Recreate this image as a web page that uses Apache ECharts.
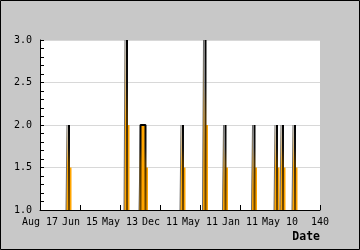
<!DOCTYPE html>
<html><head><meta charset="utf-8">
<script src="https://cdn.jsdelivr.net/npm/echarts@6/dist/echarts.min.js"></script>
<style>html,body{margin:0;padding:0;background:#c8c8c8}#c{width:360px;height:250px}</style>
</head><body><div id="c"></div>
<script>
// x positions (axis units 0..140) and visit counts
const dayIndex = [0, 13, 13.5, 14.5, 14.5, 42, 42.5, 43.5, 43.5, 49.5, 50.25, 52.75, 52.75, 70, 70.5, 71.5, 71.5, 81.25, 81.75, 82.75, 82.75, 91.25, 91.75, 92.75, 92.75, 105.75, 106.25, 107.25, 107.25, 117, 117.5, 118.5, 118.5, 120, 120.5, 121.5, 121.5, 126, 126.5, 127.5, 127.5, 140];
const visits   = [1, 1, 2, 2, 1, 1, 3, 3, 1, 1, 2, 2, 1, 1, 2, 2, 1, 1, 3, 3, 1, 1, 2, 2, 1, 1, 2, 2, 1, 1, 2, 2, 1, 1, 2, 2, 1, 1, 2, 2, 1, 1];
const xTickLabels = ['Aug 17', 'Jun 15', 'May 13', 'Dec 11', 'May 11', 'Jan 11', 'May 10', '140'];
const yTicks = [1.0, 1.5, 2.0, 2.5, 3.0];

const font = 'DejaVu Sans Mono';
const areaData = dayIndex.map((d, i) => [d, visits[i]]);

// find spikes (runs of values above the baseline) from the arrays
const spikes = [];
for (let i = 0; i < visits.length; i++) {
  if (visits[i] > 1 && (i === 0 || visits[i - 1] === 1)) {
    let j = i;
    while (j + 1 < visits.length && visits[j + 1] > 1) j++;
    spikes.push({rise: dayIndex[i - 1], top: dayIndex[i], drop: dayIndex[j + 1], peak: visits[i]});
  }
}
function edgeSeriesData(peak) {
  const out = [];
  spikes.filter(s => s.peak === peak).forEach(s => {
    if (s.drop - s.top > 1.5) out.push([s.top, 1], [s.top, s.peak]);
    else out.push([s.drop, 1]);
    out.push([s.drop, s.peak], [s.drop, 1], '-');
  });
  return out;
}
const riseData = [];
spikes.forEach(s => riseData.push([s.rise, 1], [s.top, s.peak], '-'));
const tail = [];
spikes.forEach(s => {
  const mid = (1 + s.peak) / 2;
  tail.push([s.drop, 1], [s.drop, mid], [s.drop + 1.25, mid], [s.drop + 1.25, 1]);
});
const fade = {type: 'linear', x: 0, y: 0, x2: 0, y2: 1, colorStops: [
  {offset: 0, color: '#000'}, {offset: 0.28, color: '#111'}, {offset: 0.45, color: '#4a3000'}, {offset: 1, color: '#7a4e00'}]};

const chart = echarts.init(document.getElementById('c'), null, {renderer: 'canvas'});
chart.setOption({
  animation: false,
  backgroundColor: '#c8c8c8',
  grid: {left: 40, right: 40, top: 40, bottom: 40, outerBoundsMode: 'none', containLabel: false, show: true, backgroundColor: '#ffffff', borderWidth: 0},
  xAxis: {
    type: 'value', min: 0, max: 140, interval: 20,
    name: 'Date', nameLocation: 'end', nameGap: 0,
    nameTextStyle: {fontFamily: font, fontWeight: 'bold', fontSize: 11.5, color: '#000', align: 'right', verticalAlign: 'top', padding: [21, 0, 0, 0]},
    axisLine: {show: true, lineStyle: {color: '#000', width: 1}},
    axisTick: {show: true, inside: true, length: 5, lineStyle: {color: '#000'}},
    axisLabel: {fontFamily: font, fontSize: 10, color: '#000', margin: 7, showMinLabel: true, showMaxLabel: true, hideOverlap: false,
      formatter: v => xTickLabels[Math.round(v / 20)]},
    splitLine: {show: false}
  },
  yAxis: {
    type: 'value', min: yTicks[0], max: yTicks[yTicks.length - 1], interval: 0.5,
    name: 'Vists', nameLocation: 'middle', nameGap: 30,
    nameTextStyle: {fontFamily: font, fontWeight: 'bold', fontSize: 11.5, color: '#000'},
    axisLine: {show: true, lineStyle: {color: '#000', width: 1}},
    axisTick: {show: true, inside: true, length: 4, lineStyle: {color: '#000'}},
    minorTick: {show: true, splitNumber: 5, length: 4, lineStyle: {color: '#000'}},
    axisLabel: {fontFamily: font, fontSize: 10, color: '#000', margin: 8, formatter: v => v.toFixed(1)},
    splitLine: {show: true, lineStyle: {color: '#d8d8d8', width: 1}}
  },
  series: [{
    type: 'line', data: tail, symbol: 'none', silent: true,
    lineStyle: {width: 0, opacity: 0},
    areaStyle: {color: '#ffa500', opacity: 1},
    z: 1
  }, {
    type: 'line', data: areaData, symbol: 'none',
    lineStyle: {width: 0, opacity: 0},
    areaStyle: {color: '#ffa500', opacity: 1},
    z: 2
  }, {
    type: 'line', data: riseData, symbol: 'none', connectNulls: false, silent: true,
    lineStyle: {color: '#6a6a6a', width: 1},
    z: 3
  }, {
    type: 'line', data: edgeSeriesData(2), symbol: 'none', connectNulls: false, silent: true,
    lineStyle: {color: fade, width: 2},
    z: 4
  }, {
    type: 'line', data: edgeSeriesData(3), symbol: 'none', connectNulls: false, silent: true,
    lineStyle: {color: fade, width: 2},
    z: 4
  }],
  graphic: [{type: 'rect', shape: {x: 0.5, y: 0.5, width: 359, height: 249}, style: {fill: null, stroke: '#000', lineWidth: 1}, z: 100}]
});
</script></body></html>
